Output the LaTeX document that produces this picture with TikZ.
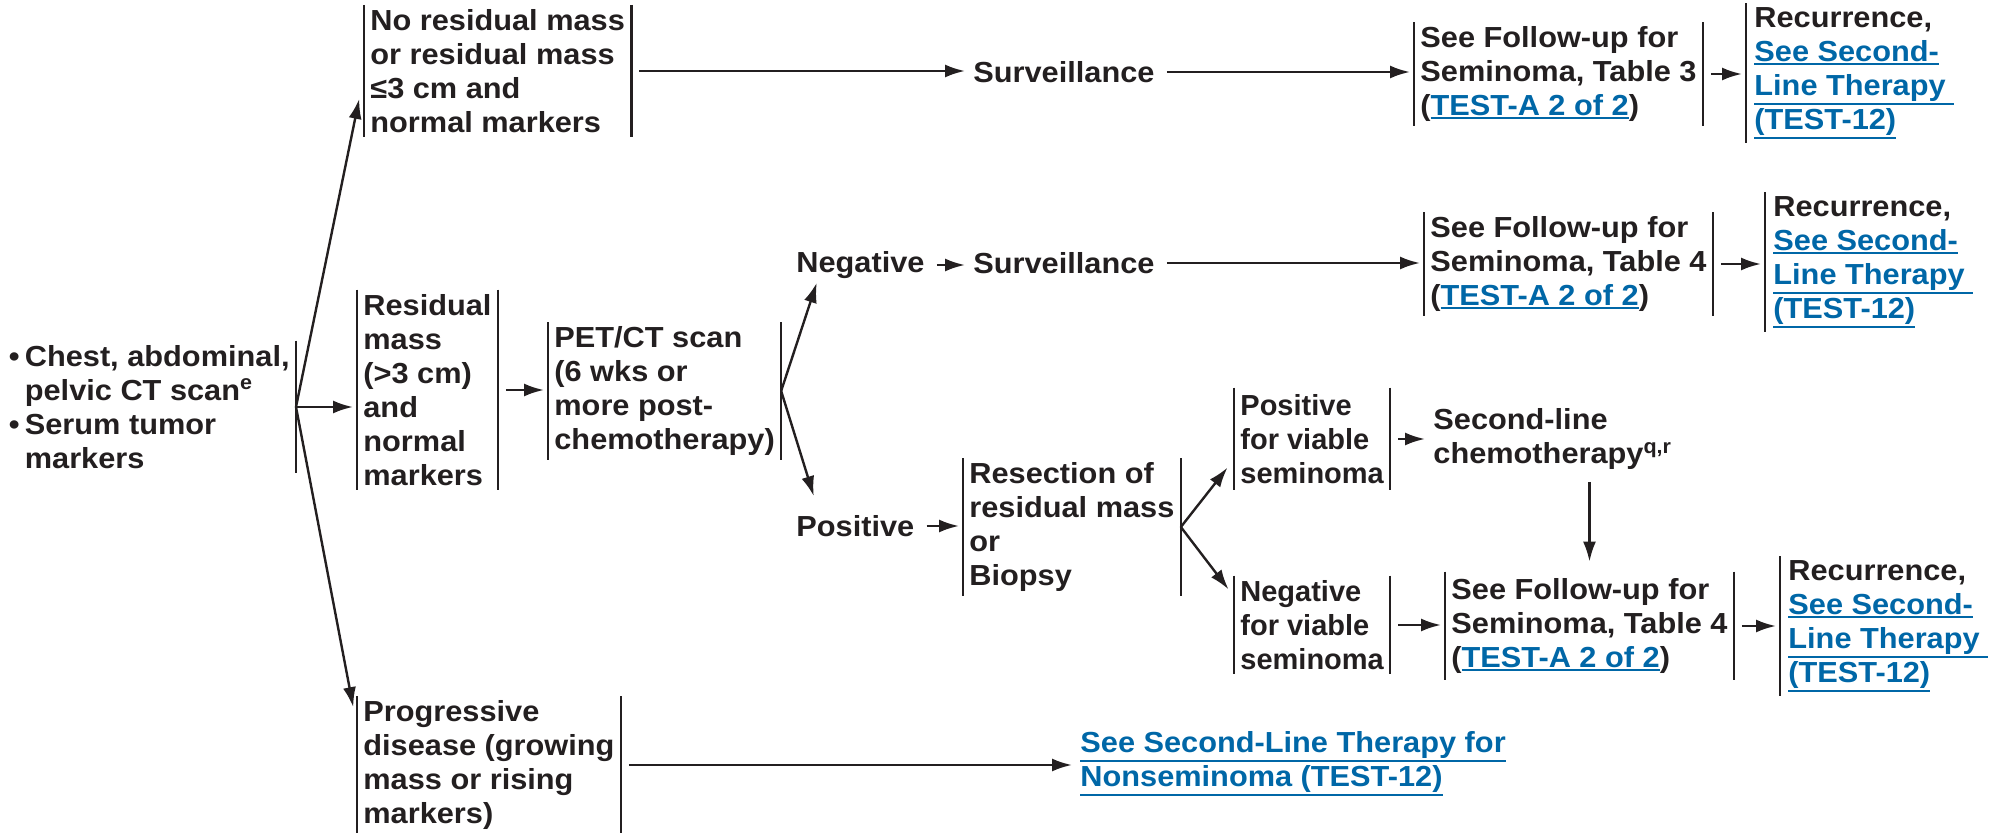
\documentclass[tikz,border=0pt]{standalone}
\usepackage{fontspec}
\setmainfont{Liberation Sans}[FakeStretch=1.06]
\newfontfamily\plainsans{Liberation Sans}
\usetikzlibrary{arrows.meta,calc}

\definecolor{ink}{HTML}{231F20}
\definecolor{linkblue}{HTML}{0067A7}
\newcommand{\lnk}[1]{\textcolor{linkblue}{\setbox0=\hbox{#1}\rlap{\rule[\dimexpr-\dp0-1.6pt\relax]{\wd0}{0.9pt}}\box0}}

\tikzset{
  every node/.style={font=\fontsize{14.5}{17}\selectfont\bfseries, text=ink, inner sep=2pt},
  bar/.style={draw=ink, line width=1.2pt},
  lbar/.style={append after command={(\tikzlastnode.north west) edge[bar] (\tikzlastnode.south west)}},
  rbar/.style={append after command={(\tikzlastnode.north east) edge[bar] (\tikzlastnode.south east)}},
  barbox/.style={lbar, rbar, anchor=west, align=left, inner xsep=3pt, minimum height=#1},
  recbox/.style={lbar, anchor=west, align=left, inner xsep=4pt, minimum height=#1},
  narrow/.style={font=\fontsize{14.5}{17}\plainsans\bfseries},
  txt/.style={anchor=west, align=left},
  arr/.style={draw=ink, line width=1.2pt, -{Latex[length=10pt,width=6.5pt]}, shorten <=4pt, shorten >=2pt},
  brarr/.style={arr, shorten <=0pt}
}

\begin{document}
\begin{tikzpicture}[x=0.5pt,y=-0.5pt]
    \useasboundingbox (0,0) rectangle (1994,833);

    % Work-up
    \node[rbar, anchor=east, align=left, inner xsep=3pt, minimum height=66pt] (start) at (296,407)
        {\makebox[8pt][l]{\textbullet}Chest, abdominal,\\\hspace*{8pt}pelvic CT scan\textsuperscript{e}\\\makebox[8pt][l]{\textbullet}Serum tumor\\\hspace*{8pt}markers};

    % Findings
    \node[barbox=65pt] (nores) at (364,71) {No residual mass\\or residual mass\\≤3 cm and\\normal markers};
    \node[barbox=100pt] (resid) at (357,390) {Residual\\mass\\(>3 cm)\\and\\normal\\markers};
    \node[barbox=68pt] (prog) at (357,765) {Progressive\\disease (growing\\mass or rising\\markers)};

    % PET/CT and results
    \node[barbox=63pt] (pet) at (548,391) {PET/CT scan\\(6 wks or\\more post-\\chemotherapy)};
    \node[txt] (neg) at (792,265) {Negative};
    \node[txt] (pos) at (792,526) {Positive};
    \node[barbox=67pt] (resec) at (963,527) {Resection of\\residual mass\\or\\Biopsy};
    \node[barbox=51pt, narrow] (posv) at (1234,439) {Positive\\for viable\\seminoma};
    \node[barbox=49pt, narrow] (negv) at (1234,625) {Negative\\for viable\\seminoma};
    \node[txt] (chemo) at (1429,439) {Second-line\\chemotherapy\textsuperscript{q,r}};

    % Surveillance and follow-up
    \node[txt] (surA) at (969,72) {Surveillance};
    \node[txt] (surB) at (969,263) {Surveillance};
    \node[barbox=49pt] (fuA) at (1414,74) {See Follow-up for\\Seminoma, Table 3\\(\lnk{TEST-A 2 of 2})};
    \node[barbox=50pt] (fuB) at (1424,264) {See Follow-up for\\Seminoma, Table 4\\(\lnk{TEST-A 2 of 2})};
    \node[barbox=54pt] (fuC) at (1445,626) {See Follow-up for\\Seminoma, Table 4\\(\lnk{TEST-A 2 of 2})};

    % Recurrence
    \node[recbox=67pt] (recA) at (1746,73) {Recurrence,\\\lnk{See Second-}\\\lnk{Line Therapy\ }\\\lnk{(TEST-12)}};
    \node[recbox=65.5pt] (recB) at (1765,262) {Recurrence,\\\lnk{See Second-}\\\lnk{Line Therapy\ }\\\lnk{(TEST-12)}};
    \node[recbox=66.5pt] (recC) at (1780,626) {Recurrence,\\\lnk{See Second-}\\\lnk{Line Therapy\ }\\\lnk{(TEST-12)}};
    \node[txt] (nonsem) at (1076,764) {\lnk{See Second-Line Therapy for}\\\lnk{Nonseminoma (TEST-12)}};

    % Branches
    \coordinate (sb) at (start.east);
    \coordinate (pb) at (pet.east);
    \coordinate (rb) at (resec.east);
    \draw[brarr] (sb) -- ($(nores.west)+(-4,24)$);
    \draw[brarr] (sb) -- (sb -| resid.west);
    \draw[brarr] (sb) -- ($(prog.north west)+(-3,15)$);
    \draw[brarr] (pb) -- ($(neg.south west)+(26,-4)$);
    \draw[brarr] (pb) -- ($(pos.north west)+(23,-11)$);
    \draw[brarr] (rb) -- ($(posv.south west)+(-4,-26)$);
    \draw[brarr] (rb) -- ($(negv.north west)+(-3,17)$);

    % Straight arrows
    \foreach \a/\b in {nores/surA, surA/fuA, fuA/recA, resid/pet, neg/surB, surB/fuB, fuB/recB,
                       pos/resec, posv/chemo, negv/fuC, fuC/recC, prog/nonsem}
        {
            \draw[arr] (\a.east) -- (\b.west |- \a.east);
        }
    \draw[arr, shorten >=5pt] (fuC.north |- chemo.south) -- (fuC.north);

\end{tikzpicture}
\end{document}
